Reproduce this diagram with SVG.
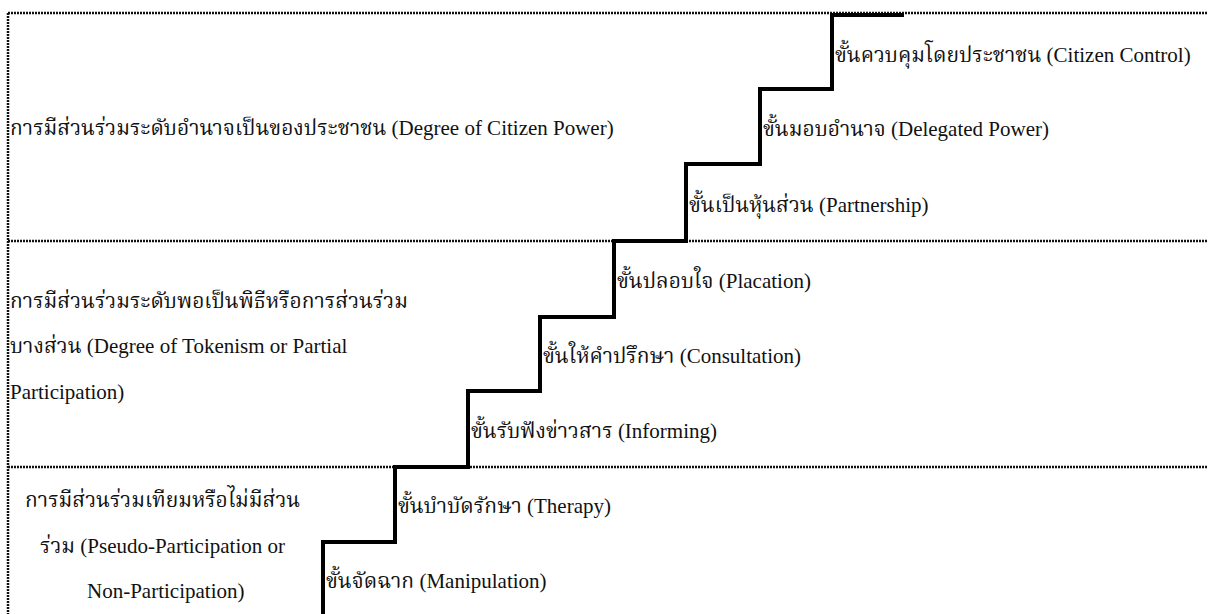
<svg xmlns="http://www.w3.org/2000/svg" width="1208" height="614" viewBox="0 0 1208 614">
<style>
.t{font-family:"Liberation Serif","Times New Roman",serif;font-size:21px;fill:#111}
.th{font-family:"Noto Serif Thai","Noto Sans Thai","Liberation Serif",serif}
.en{font-family:"Liberation Serif","Times New Roman",serif}
.dot{stroke:#111;stroke-width:2.5;stroke-dasharray:2 1;fill:none}
.stair{stroke:#000;stroke-width:4;fill:none;stroke-linejoin:miter;stroke-linecap:butt}
</style>
<rect width="1208" height="614" fill="#fff"/>
<g id="frame">
<line class="dot" x1="8" y1="13" x2="1208" y2="13"/>
<line class="dot" x1="8" y1="241" x2="1208" y2="241"/>
<line class="dot" x1="8" y1="467" x2="1208" y2="467"/>
<line class="dot" x1="8" y1="13" x2="8" y2="614"/>
</g>
<g id="connectors">
<path class="stair" d="M323 614 V542 H395 V467 H468 V391 H540 V317 H614 V241 H686 V164 H760 V89 H832 V15 H904"/>
</g>
<g id="level-citizen-power">
<text class="t" x="10" y="135"><tspan class="th">การมีส่วนร่วมระดับอำนาจเป็นของประชาชน</tspan><tspan class="en"> (Degree of Citizen Power)</tspan></text>
</g>
<g id="level-tokenism">
<text class="t" x="10" y="308"><tspan class="th">การมีส่วนร่วมระดับพอเป็นพิธีหรือการส่วนร่วม</tspan></text>
<text class="t" x="10" y="353"><tspan class="th">บางส่วน</tspan><tspan class="en"> (Degree of Tokenism or Partial</tspan></text>
<text class="t" x="10" y="399"><tspan class="en">Participation)</tspan></text>
</g>
<g id="level-non-participation">
<text class="t" x="25" y="507"><tspan class="th">การมีส่วนร่วมเทียมหรือไม่มีส่วน</tspan></text>
<text class="t" x="40" y="553"><tspan class="th">ร่วม</tspan><tspan class="en"> (Pseudo-Participation or</tspan></text>
<text class="t" x="87" y="598"><tspan class="en">Non-Participation)</tspan></text>
</g>
<g id="step-8"><text class="t" x="835" y="62"><tspan class="th">ขั้นควบคุมโดยประชาชน</tspan><tspan class="en"> (Citizen Control)</tspan></text></g>
<g id="step-7"><text class="t" x="763" y="136"><tspan class="th">ขั้นมอบอำนาจ</tspan><tspan class="en"> (Delegated Power)</tspan></text></g>
<g id="step-6"><text class="t" x="689" y="212"><tspan class="th">ขั้นเป็นหุ้นส่วน</tspan><tspan class="en"> (Partnership)</tspan></text></g>
<g id="step-5"><text class="t" x="617" y="288"><tspan class="th">ขั้นปลอบใจ</tspan><tspan class="en"> (Placation)</tspan></text></g>
<g id="step-4"><text class="t" x="543" y="363"><tspan class="th">ขั้นให้คำปรึกษา</tspan><tspan class="en"> (Consultation)</tspan></text></g>
<g id="step-3"><text class="t" x="471" y="438"><tspan class="th">ขั้นรับฟังข่าวสาร</tspan><tspan class="en"> (Informing)</tspan></text></g>
<g id="step-2"><text class="t" x="398" y="513"><tspan class="th">ขั้นบำบัดรักษา</tspan><tspan class="en"> (Therapy)</tspan></text></g>
<g id="step-1"><text class="t" x="326" y="588"><tspan class="th">ขั้นจัดฉาก</tspan><tspan class="en"> (Manipulation)</tspan></text></g>
</svg>
